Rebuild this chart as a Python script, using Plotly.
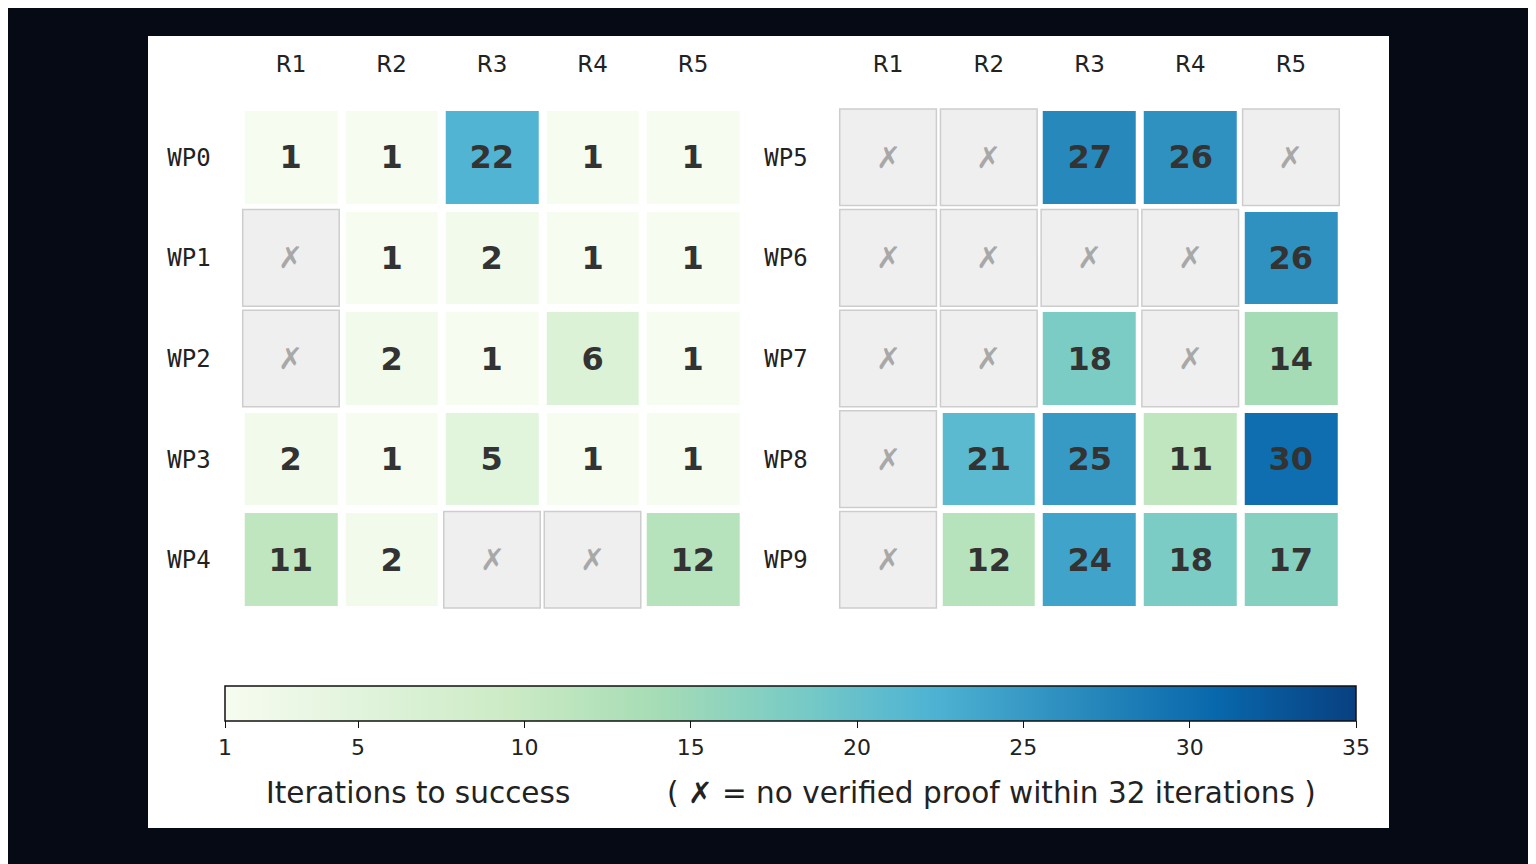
import plotly.graph_objects as go

# Data (None = no verified proof)
rounds = ["R1", "R2", "R3", "R4", "R5"]
left_rows = ["WP0", "WP1", "WP2", "WP3", "WP4"]
right_rows = ["WP5", "WP6", "WP7", "WP8", "WP9"]

left_z = [
    [1, 1, 22, 1, 1],
    [None, 1, 2, 1, 1],
    [None, 2, 1, 6, 1],
    [2, 1, 5, 1, 1],
    [11, 2, None, None, 12],
]
right_z = [
    [None, None, 27, 26, None],
    [None, None, None, None, 26],
    [None, None, 18, None, 14],
    [None, 21, 25, 11, 30],
    [None, 12, 24, 18, 17],
]

cbar_ticks = [1, 5, 10, 15, 20, 25, 30, 35]
zmin, zmax = 1, 35

W, H = 1536, 864
OFF = 8  # page body margin
BG = "#060a14"


def px(x):
    return (x - OFF) / W


def py(y):
    return 1 - (y - OFF) / H


fig = go.Figure()
notes = []


def add_panel(z, rows, xa, ya, show_scale):
    texts = [["" if v is None else str(v) for v in r] for r in z]
    fig.add_trace(go.Heatmap(
        z=z, x=rounds, y=rows,
        colorscale="GnBu", zmin=zmin, zmax=zmax,
        xgap=8, ygap=8,
        text=texts, texttemplate="%{text}",
        textfont=dict(family="DejaVu Sans", size=32, color="#333333", weight="bold"),
        hoverongaps=False,
        showscale=show_scale,
        colorbar=dict(
            orientation="h",
            x=px(225), xanchor="left",
            y=py(686), yanchor="top",
            len=(1356 - 225) / W, lenmode="fraction",
            thickness=35, thicknessmode="pixels",
            xpad=0, ypad=0,
            outlinecolor="#111111", outlinewidth=1.5,
            tickvals=cbar_ticks, ticks="outside", ticklen=7,
            tickcolor="#111111",
            tickfont=dict(family="DejaVu Sans", size=22, color="#222222"),
        ),
        xaxis=xa, yaxis=ya,
    ))
    # failed cells: grey boxes with a cross
    for i, r in enumerate(z):
        for j, v in enumerate(r):
            if v is None:
                fig.add_shape(
                    type="rect", xref=xa, yref=ya,
                    x0=j - 0.48, x1=j + 0.48, y0=i - 0.48, y1=i + 0.48,
                    fillcolor="#efefef", line=dict(color="#cdcdcd", width=1.5),
                    layer="below",
                )
                notes.append(dict(
                    text="✗", xref=xa, yref=ya, x=rounds[j], y=rows[i],
                    showarrow=False, yshift=0,
                    font=dict(family="DejaVu Sans", size=30, color="#a8a8a8"),
                ))


add_panel(left_z, left_rows, "x", "y", True)
add_panel(right_z, right_rows, "x2", "y2", False)

# white panel behind everything
fig.add_shape(type="rect", xref="paper", yref="paper",
              x0=px(148), x1=px(1389), y0=py(828), y1=py(36),
              fillcolor="white", line=dict(width=0), layer="below")
shapes = list(fig.layout.shapes)
fig.layout.shapes = [shapes[-1]] + shapes[:-1]

xaxis_common = dict(
    side="top", showgrid=False, zeroline=False, showline=False, ticks="",
    range=[-0.5, 4.5], ticklabelstandoff=29,
    tickfont=dict(family="DejaVu Sans", size=23, color="#222222"),
)
yaxis_common = dict(
    showgrid=False, zeroline=False, showline=False, ticks="",
    range=[4.5, -0.5], ticklabelstandoff=29,
    tickfont=dict(family="DejaVu Sans Mono", size=24, color="#222222"),
    domain=[py(610), py(107)],
)

notes += [
    dict(text="Iterations to success", xref="paper", yref="paper",
         x=px(418), y=py(793), xanchor="center", yanchor="middle",
         showarrow=False,
         font=dict(family="DejaVu Sans", size=29.5, color="#222222")),
    dict(text="( ✗ = no verified proof within 32 iterations )",
         xref="paper", yref="paper",
         x=px(991), y=py(793), xanchor="center", yanchor="middle",
         showarrow=False,
         font=dict(family="DejaVu Sans", size=29.5, color="#222222")),
]

fig.update_layout(
    width=W, height=H,
    margin=dict(l=0, r=0, t=0, b=0),
    paper_bgcolor=BG, plot_bgcolor="rgba(0,0,0,0)",
    xaxis=dict(xaxis_common, domain=[px(240.7), px(743.3)], anchor="y"),
    yaxis=dict(yaxis_common, anchor="x"),
    xaxis2=dict(xaxis_common, domain=[px(837.7), px(1341.3)], anchor="y2"),
    yaxis2=dict(yaxis_common, anchor="x2"),
    annotations=notes,
)

fig.write_html("out.html")
